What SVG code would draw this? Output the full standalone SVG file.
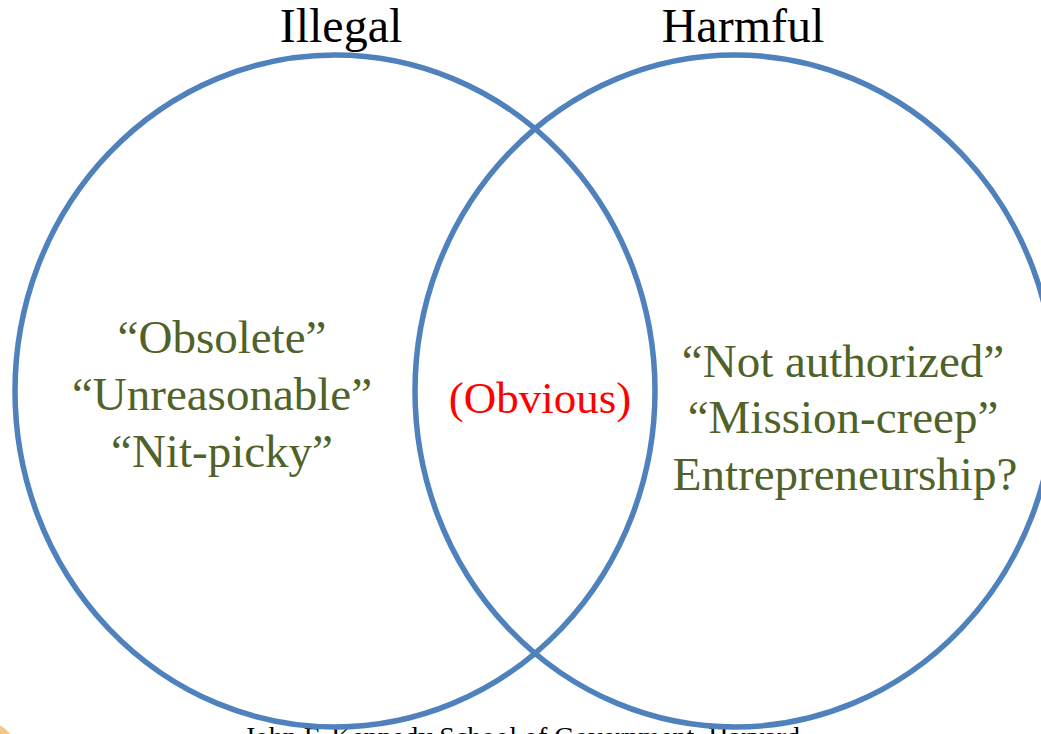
<svg xmlns="http://www.w3.org/2000/svg" width="1041" height="734" viewBox="0 0 1041 734">
<style>
.t{font-family:"Liberation Serif","Times New Roman",serif;text-anchor:middle}
.title{font-size:48px;fill:#000}
.g{font-size:47px;fill:#4F6228}
.r{font-size:45px;fill:#FF0000}
.foot{font-size:28px;fill:#000}
.ring{fill:none;stroke:#4F81BD;stroke-width:5.5}
</style>
<rect width="1041" height="734" fill="#fff"/>
<circle cx="-14" cy="752" r="30" fill="#F0A030" opacity="0.6"/>
<text class="t foot" x="522" y="746">John F. Kennedy School of Government, Harvard</text>
<g id="illegal">
<ellipse class="ring" cx="335" cy="391" rx="320" ry="336"/>
<text class="t title" x="341" y="42">Illegal</text>
</g>
<g id="harmful">
<ellipse class="ring" cx="735" cy="391" rx="320" ry="336"/>
<text class="t title" x="743" y="42">Harmful</text>
</g>
<g id="left-items">
<text class="t g" x="222" y="353">“Obsolete”</text>
<text class="t g" x="222" y="410">“Unreasonable”</text>
<text class="t g" x="222" y="467">“Nit-picky”</text>
</g>
<g id="overlap">
<text class="t r" x="540" y="413">(Obvious)</text>
</g>
<g id="right-items">
<text class="t g" x="843" y="377">“Not authorized”</text>
<text class="t g" x="843" y="433">“Mission-creep”</text>
<text class="t g" x="845" y="490">Entrepreneurship?</text>
</g>
<g id="connectors"></g>
</svg>
